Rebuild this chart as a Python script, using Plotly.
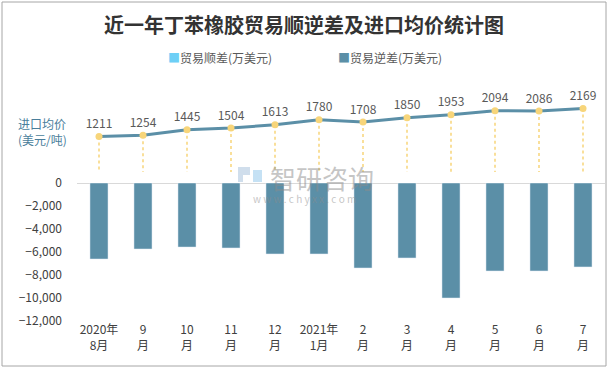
import plotly.graph_objects as go

categories = ["2020年<br>8月", "9<br>月", "10<br>月", "11<br>月", "12<br>月", "2021年<br>1月",
              "2<br>月", "3<br>月", "4<br>月", "5<br>月", "6<br>月", "7<br>月"]
trade_surplus = [None] * 12
trade_deficit = [-6610, -5740, -5570, -5650, -6170, -6170, -7390, -6520, -10000, -7650, -7650, -7300]
import_price = [1211, 1254, 1445, 1504, 1613, 1780, 1708, 1850, 1953, 2094, 2086, 2169]
y_ticks = [0, -2000, -4000, -6000, -8000, -10000, -12000]

FONT = "Noto Sans CJK SC"
BAR_COLOR = "#5B8FA7"
SURPLUS_COLOR = "#6DCFF6"
DOT_COLOR = "#F7D57A"
W, H = 613, 370

def px(x):
    return x / W

def py(y):
    return (H - y) / H

fig = go.Figure()

fig.add_trace(go.Bar(x=categories, y=trade_surplus, name="贸易顺差(万美元)",
                     marker_color=SURPLUS_COLOR, yaxis="y", showlegend=False))
fig.add_trace(go.Bar(x=categories, y=trade_deficit, name="贸易逆差(万美元)",
                     marker_color=BAR_COLOR, yaxis="y", showlegend=False))

# dotted drop lines from each price point to the price baseline
dx, dy = [], []
for c, p in zip(categories, import_price):
    dx += [c, c, None]
    dy += [p, 0, None]
fig.add_trace(go.Scatter(x=dx, y=dy, mode="lines", yaxis="y2", showlegend=False,
                         line=dict(color=DOT_COLOR, width=1.5, dash="dot"), hoverinfo="skip"))

fig.add_trace(go.Scatter(x=categories, y=import_price, mode="lines+markers+text", yaxis="y2",
                         showlegend=False, text=[str(v) for v in import_price],
                         textposition="top center",
                         textfont=dict(family=FONT, size=12, color="#595959"),
                         line=dict(color=BAR_COLOR, width=3),
                         marker=dict(color=DOT_COLOR, size=7)))

fig.update_layout(
    width=W, height=H,
    margin=dict(l=0, r=0, t=0, b=0),
    paper_bgcolor="white", plot_bgcolor="rgba(0,0,0,0)",
    font=dict(family=FONT, color="#404040"),
    showlegend=False,
    barmode="overlay", bargap=0.59,
    title=dict(text="<b>近一年丁苯橡胶贸易顺逆差及进口均价统计图</b>", x=px(304), xanchor="center",
               y=py(26), yanchor="middle", font=dict(family=FONT, size=20, color="#333333")),
    xaxis=dict(domain=[px(77), px(605)], range=[-0.5, len(categories) - 0.5], showgrid=False,
               showline=False, ticks="", tickfont=dict(size=12, color="#404040"), anchor="y",
               automargin=False),
    yaxis=dict(domain=[py(321), py(183)], range=[-12000, 0], tickvals=y_ticks, tickformat=",",
               showgrid=False, zeroline=True, zerolinecolor="#D9D9D9", zerolinewidth=1,
               tickfont=dict(size=12, color="#404040"), ticklabelstandoff=14, showline=False,
               automargin=False),
    yaxis2=dict(domain=[py(172), py(90)], range=[0, 2800], visible=False, anchor="x",
                automargin=False),
    hovermode=False,
)

# legend (drawn as text)
fig.add_annotation(text=f"<span style='color:{SURPLUS_COLOR}'>■</span>贸易顺差(万美元)",
                   xref="paper", yref="paper", x=px(166), y=py(58), xanchor="left", yanchor="middle",
                   showarrow=False, font=dict(family=FONT, size=12, color="#595959"))
fig.add_annotation(text=f"<span style='color:{BAR_COLOR}'>■</span>贸易逆差(万美元)",
                   xref="paper", yref="paper", x=px(336), y=py(58), xanchor="left", yanchor="middle",
                   showarrow=False, font=dict(family=FONT, size=12, color="#595959"))

fig.add_annotation(text="进口均价<br>(美元/吨)", xref="paper", yref="paper", x=px(16), y=py(131),
                   xanchor="left", yanchor="middle", showarrow=False, align="left",
                   font=dict(family=FONT, size=12, color="#4A7E9B"))

# watermark
fig.add_shape(type="path", xref="paper", yref="paper", layer="above",
              path=(f"M {px(238)},{py(167)} L {px(250)},{py(167)} L {px(250)},{py(175)} "
                    f"L {px(243)},{py(175)} L {px(243)},{py(182)} L {px(238)},{py(182)} Z"),
              fillcolor="rgba(170,195,220,0.55)", line=dict(width=0))
fig.add_shape(type="rect", xref="paper", yref="paper", layer="above",
              x0=px(253), x1=px(262), y0=py(182), y1=py(170),
              fillcolor="rgba(150,200,235,0.55)", line=dict(width=0))
fig.add_annotation(text="智研咨询", xref="paper", yref="paper", x=px(322), y=py(177), showarrow=False,
                   font=dict(family=FONT, size=26, color="rgba(140,140,140,0.5)"))
fig.add_annotation(text="w w w . c h y x x . c o m", xref="paper", yref="paper", x=px(304), y=py(198),
                   showarrow=False, font=dict(family=FONT, size=10, color="rgba(140,140,140,0.5)"))

# outer border
fig.add_shape(type="rect", xref="paper", yref="paper", x0=px(2), x1=px(606), y0=py(366), y1=py(2),
              line=dict(color="#A6A6A6", width=1), fillcolor="rgba(0,0,0,0)", layer="below")

fig.write_html("out.html", config={"displayModeBar": False},
               post_script="document.body.style.margin='0';")
